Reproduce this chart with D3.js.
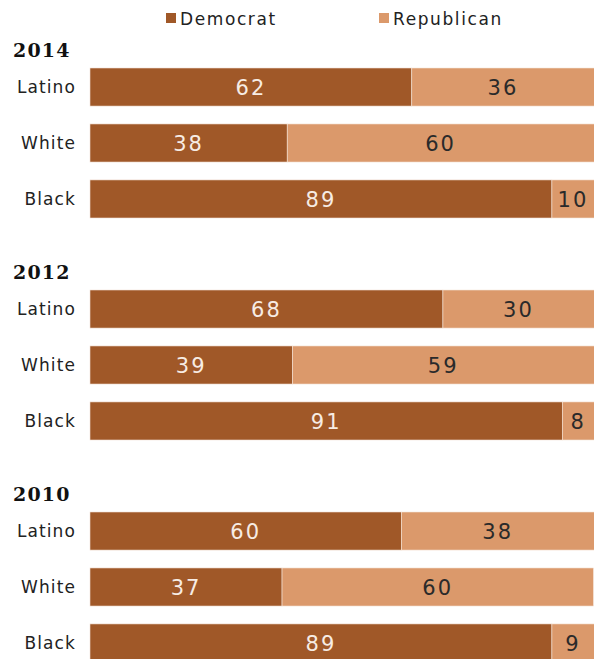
<!DOCTYPE html>
<html>
<head>
<meta charset="UTF-8">
<script src="https://d3js.org/d3.v7.min.js"></script>
<style>
  body { margin: 0; background: #fff; }
  svg { display: block; }
</style>
</head>
<body>
<script>
// data
var years = ["2014", "2012", "2010"];
var groups = ["Latino", "White", "Black"];
var democrat = [
  [62, 38, 89],   // 2014
  [68, 39, 91],   // 2012
  [60, 37, 89]    // 2010
];
var republican = [
  [36, 60, 10],
  [30, 59, 8],
  [38, 60, 9]
];
var seriesNames = ["Democrat", "Republican"];
var colors = ["#a05828", "#db996b"];

var width = 594, height = 659;
var svg = d3.select("body").append("svg").attr("width", width).attr("height", height);

var x = d3.scaleLinear().domain([0, 100]).range([90, 609]);

var yearTop = d3.scaleLinear().domain([0, 1]).range([68, 290]); // step between blocks
var rowY = d3.scaleBand().domain(groups).range([0, 150]).paddingInner(0.32).paddingOuter(0);

// legend
var legendX = [166, 379];
seriesNames.forEach(function (name, i) {
  var g = svg.append("g").attr("transform", "translate(" + legendX[i] + ",0)");
  g.append("rect").attr("x", 0).attr("y", 13).attr("width", 10).attr("height", 10).attr("fill", colors[i]);
  g.append("text").attr("x", 14).attr("y", 25)
    .style("font-family", "DejaVu Sans, sans-serif").style("font-size", "17px")
    .style("letter-spacing", "1.6px")
    .attr("fill", "#222").text(name);
});

years.forEach(function (year, yi) {
  var top = yearTop(yi);
  var g = svg.append("g").attr("transform", "translate(0," + top + ")");

  g.append("text").attr("x", 13).attr("y", -11)
    .style("font-family", "DejaVu Serif, serif").style("font-weight", "bold")
    .style("font-size", "19px").style("letter-spacing", "1.2px")
    .attr("fill", "#111").text(year);

  groups.forEach(function (grp, gi) {
    var y0 = rowY(grp), h = rowY.bandwidth();
    var d = democrat[yi][gi], r = republican[yi][gi];

    g.append("text").attr("x", 76).attr("y", y0 + h / 2 + 6)
      .attr("text-anchor", "end")
      .style("font-family", "DejaVu Sans, sans-serif").style("font-size", "17px")
      .style("letter-spacing", "1.1px")
      .attr("fill", "#222").text(grp);

    g.append("rect").attr("x", x(0)).attr("y", y0).attr("width", x(d) - x(0)).attr("height", h)
      .attr("fill", colors[0]).attr("stroke", "#f2e2d6").attr("stroke-width", 0.6);
    g.append("rect").attr("x", x(d)).attr("y", y0).attr("width", x(d + r) - x(d)).attr("height", h)
      .attr("fill", colors[1]).attr("stroke", "#f6e6da").attr("stroke-width", 0.6);

    var rEnd = Math.min(x(d + r), width);
    g.append("text").attr("x", (x(0) + x(d)) / 2).attr("y", y0 + h / 2 + 8)
      .attr("text-anchor", "middle")
      .style("font-family", "DejaVu Sans, sans-serif").style("font-size", "21px")
      .style("letter-spacing", "2px")
      .attr("fill", "#f7ece4").text(d);
    g.append("text").attr("x", (x(d) + rEnd) / 2).attr("y", y0 + h / 2 + 8)
      .attr("text-anchor", "middle")
      .style("font-family", "DejaVu Sans, sans-serif").style("font-size", "21px")
      .style("letter-spacing", "2px")
      .attr("fill", "#2a2a2a").text(r);
  });
});
</script>
</body>
</html>
